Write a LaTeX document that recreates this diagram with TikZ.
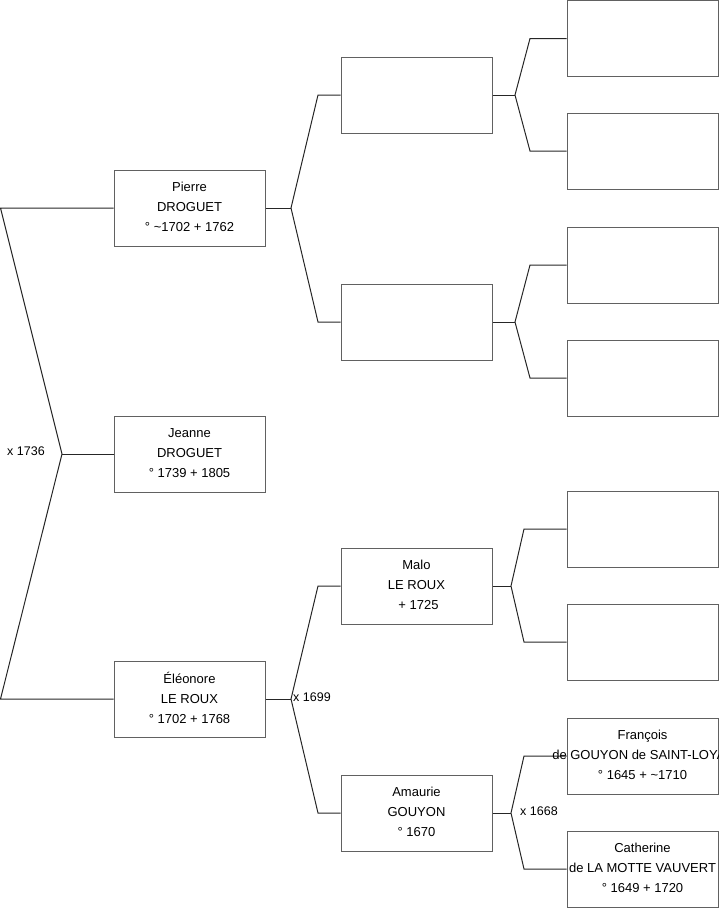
\documentclass[tikz,border=0pt]{standalone}
\usepackage{fontspec}
\setmainfont{Liberation Sans}
\begin{document}
\begin{tikzpicture}[x=1pt,y=-1pt,
  box/.style={draw=black!62, line width=1pt, minimum width=151pt, minimum height=76pt, inner sep=0pt},
  txt/.style={align=center, inner sep=0pt, font=\fontsize{13}{20}\selectfont},
  link/.style={draw=black!85, line width=1pt, line join=miter},
  mlabel/.style={anchor=west, inner sep=0pt, font=\fontsize{12.5}{14}\selectfont}]
\clip (0,0) rectangle (719,908);
\useasboundingbox (0,0) rectangle (719,908);
% generation 1
\node[box] (P) at (189.5,208) {};
\node[box] (J) at (189.5,454) {};
\node[box] (E) at (189.5,699) {};
% generation 2
\node[box] (A) at (416.5,95) {};
\node[box] (B) at (416.5,322) {};
\node[box] (M) at (416.5,586) {};
\node[box] (G) at (416.5,813) {};
% generation 3
\node[box] (A1) at (642.5,38.5) {};
\node[box] (A2) at (642.5,151) {};
\node[box] (B1) at (642.5,265) {};
\node[box] (B2) at (642.5,378) {};
\node[box] (M1) at (642.5,529) {};
\node[box] (M2) at (642.5,642) {};
\node[box] (G1) at (642.5,756) {};
\node[box] (G2) at (642.5,869) {};
% connectors
\coordinate (t0) at (0.5,208);
\coordinate (m0) at (62,454);
\coordinate (b0) at (0.5,699);
\draw[link] (P.west) -- (t0) -- (m0) -- (b0) -- (E.west);
\draw[link] (m0) -- (J.west);
\coordinate (jP) at (291,208); \coordinate (jPa) at (318,95); \coordinate (jPb) at (318,322);
\draw[link] (P.east) -- (jP);
\draw[link] (A.west) -- (jPa) -- (jP) -- (jPb) -- (B.west);
\coordinate (jE) at (291,699); \coordinate (jEa) at (318,586); \coordinate (jEb) at (318,813);
\draw[link] (E.east) -- (jE);
\draw[link] (M.west) -- (jEa) -- (jE) -- (jEb) -- (G.west);
\coordinate (jA) at (515,95); \coordinate (jAa) at (530,38.5); \coordinate (jAb) at (530,151);
\draw[link] (A.east) -- (jA);
\draw[link] (A1.west) -- (jAa) -- (jA) -- (jAb) -- (A2.west);
\coordinate (jB) at (515,322); \coordinate (jBa) at (530,265); \coordinate (jBb) at (530,378);
\draw[link] (B.east) -- (jB);
\draw[link] (B1.west) -- (jBa) -- (jB) -- (jBb) -- (B2.west);
\coordinate (jM) at (511,586); \coordinate (jMa) at (524,529); \coordinate (jMb) at (524,642);
\draw[link] (M.east) -- (jM);
\draw[link] (M1.west) -- (jMa) -- (jM) -- (jMb) -- (M2.west);
\coordinate (jG) at (511,813); \coordinate (jGa) at (524,756); \coordinate (jGb) at (524,869);
\draw[link] (G.east) -- (jG);
\draw[link] (G1.west) -- (jGa) -- (jG) -- (jGb) -- (G2.west);
% texts
\node[txt] (tP) at ([yshift=1pt]P) {Pierre\\DROGUET\\° \textasciitilde1702 + 1762};
\node[txt] (tJ) at ([yshift=1pt]J) {Jeanne\\DROGUET\\° 1739 + 1805};
\node[txt] (tE) at ([yshift=1pt]E) {Éléonore\\LE ROUX\\° 1702 + 1768};
\node[txt] (tM) at ([yshift=1pt]M) {Malo\\LE ROUX\\\hspace{4pt}+ 1725};
\node[txt] (tG) at ([yshift=1pt]G) {Amaurie\\GOUYON\\° 1670};
\node[txt] (tG1) at ([yshift=1pt]G1) {François\\de GOUYON de SAINT-LOYAL\\° 1645 + \textasciitilde1710};
\node[txt] (tG2) at ([yshift=1pt]G2) {Catherine\\de LA MOTTE VAUVERT\\° 1649 + 1720};
% marriage labels
\node[mlabel] (x1) at (7,451) {x 1736};
\node[mlabel] (x2) at (293,697) {x 1699};
\node[mlabel] (x3) at (520,811) {x 1668};
\end{tikzpicture}
\end{document}
